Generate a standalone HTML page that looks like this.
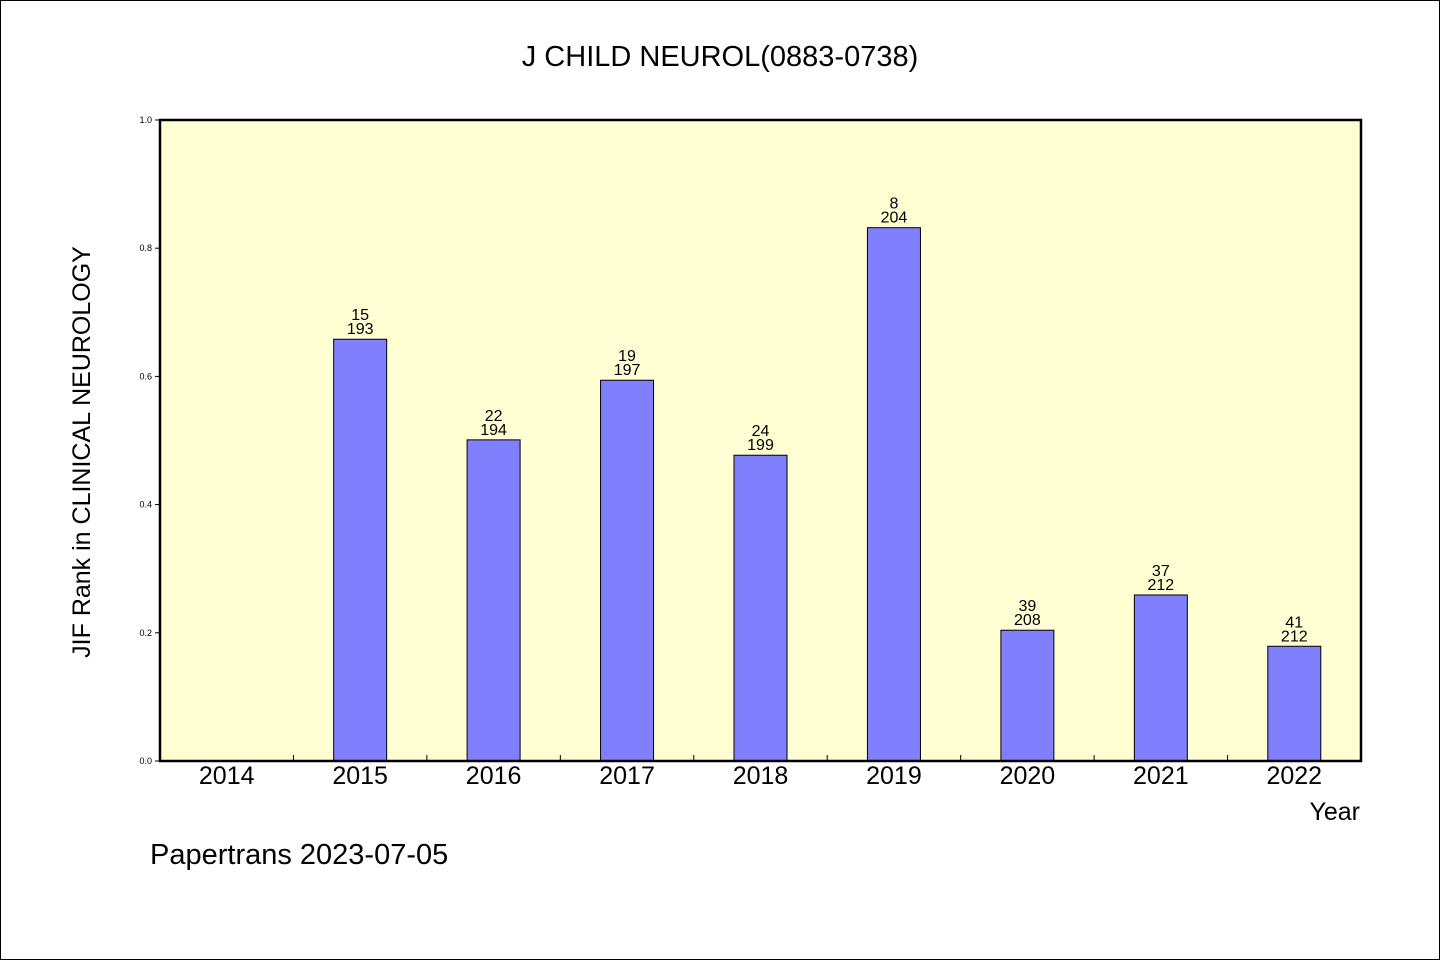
<!DOCTYPE html>
<html><head><meta charset="utf-8"><style>
html,body{margin:0;padding:0;background:#fff}
svg{display:block}
text{font-family:"WenQuanYi Zen Hei","Liberation Sans",sans-serif;fill:#000}
</style></head><body>
<svg id="chart" width="1440" height="960" xmlns="http://www.w3.org/2000/svg">
<rect x="0.5" y="0.5" width="1439" height="959" fill="#fff" stroke="#000"/>
<text x="720" y="66" font-size="29" text-anchor="middle">J CHILD NEUROL(0883-0738)</text>
<rect x="160" y="120" width="1201" height="641" fill="#ffffd3"/>
<g id="marks"></g>
<rect x="160" y="120" width="1201" height="641" fill="none" stroke="#000" stroke-width="2.5"/>
<text transform="translate(90,452) rotate(-90)" font-size="25" text-anchor="middle">JIF Rank in CLINICAL NEUROLOGY</text>
<text x="1360" y="820" font-size="25" text-anchor="end">Year</text>
<text x="150" y="864" font-size="29">Papertrans 2023-07-05</text>
</svg>
<script>
const categories=["2014","2015","2016","2017","2018","2019","2020","2021","2022"];
const values=[null,0.658,0.501,0.594,0.477,0.832,0.204,0.259,0.179];
const ranks=[null,"15","22","19","24","8","39","37","41"];
const totals=[null,"193","194","197","199","204","208","212","212"];
const yTicks=["0.0","0.2","0.4","0.6","0.8","1.0"];
const X0=160,X1=1361,Y0=761,Y1=120;
const band=(X1-X0)/categories.length;
const xc=i=>X0+band*(i+0.5);
const y=v=>Y0-(Y0-Y1)*v;
const g=document.getElementById('marks');
const NS="http://www.w3.org/2000/svg";
function mk(t,a){const e=document.createElementNS(NS,t);for(const k in a)e.setAttribute(k,a[k]);g.appendChild(e);return e;}
yTicks.forEach(t=>{const v=parseFloat(t);
 const l=mk('line',{x1:155,x2:160,y1:y(v),y2:y(v),stroke:'#000'});
 
 
 const tx=mk('text',{x:152,y:y(v)+3,'font-size':9,'text-anchor':'end'});tx.textContent=t;
 
 
});
categories.forEach((c,i)=>{
 if(i>0){const l=mk('line',{x1:X0+band*i,x2:X0+band*i,y1:Y0,y2:Y0-6,stroke:'#000'});
 
 }
 const tx=mk('text',{x:xc(i),y:784,'font-size':25,'text-anchor':'middle'});tx.textContent=c;
 
 
 if(values[i]==null)return;
 const b=mk('rect',{x:xc(i)-26.5,y:y(values[i]),width:53,height:Y0-y(values[i]),fill:'#8080ff',stroke:'#000','stroke-width':1});
 
 
 const r=mk('text',{x:xc(i),y:y(values[i])-19,'font-size':16,'text-anchor':'middle'});r.textContent=ranks[i];
 
 
 const t=mk('text',{x:xc(i),y:y(values[i])-5,'font-size':16,'text-anchor':'middle'});t.textContent=totals[i];
 
 
});
</script>
</body></html>
